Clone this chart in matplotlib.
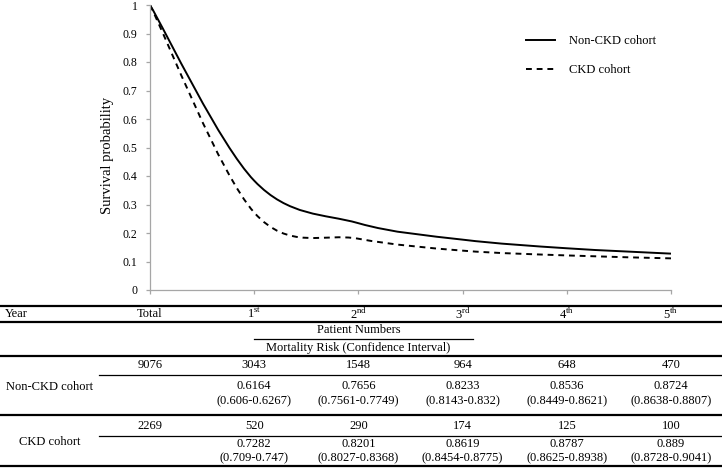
import matplotlib
matplotlib.use('Agg')
import numpy as np
import matplotlib.pyplot as plt
from matplotlib.path import Path
from matplotlib.patches import PathPatch
from matplotlib.lines import Line2D
from matplotlib.transforms import blended_transform_factory

plt.rcParams['font.family'] = ['Liberation Serif', 'DejaVu Serif']
plt.rcParams['mathtext.fontset'] = 'custom'
plt.rcParams['mathtext.rm'] = 'Liberation Serif'

# data
years = [0, 1, 2, 3, 4, 5]
surv_non_ckd = [1.0, 0.3836, 0.2344, 0.1767, 0.1464, 0.1276]
surv_ckd = [1.0, 0.2718, 0.1799, 0.1381, 0.1213, 0.1110]
year_labels = ['Total', r'1$^{\rm st}$', r'2$^{\rm nd}$', r'3$^{\rm rd}$', r'4$^{\rm th}$', r'5$^{\rm th}$']
n_non_ckd = ['9076', '3043', '1548', '964', '648', '470']
n_ckd = ['2269', '520', '290', '174', '125', '100']
risk_non_ckd = ['0.6164', '0.7656', '0.8233', '0.8536', '0.8724']
ci_non_ckd = ['(0.606-0.6267)', '(0.7561-0.7749)', '(0.8143-0.832)', '(0.8449-0.8621)', '(0.8638-0.8807)']
risk_ckd = ['0.7282', '0.8201', '0.8619', '0.8787', '0.889']
ci_ckd = ['(0.709-0.747)', '(0.8027-0.8368)', '(0.8454-0.8775)', '(0.8625-0.8938)', '(0.8728-0.9041)']


def smooth_path(x, y):
    # Excel-style smoothed line: cubic bezier through the points
    p = np.column_stack([x, y]).astype(float)
    n = len(p)
    verts = [p[0]]
    codes = [Path.MOVETO]
    for i in range(n - 1):
        prev = p[max(i - 1, 0)]
        nxt = p[min(i + 2, n - 1)]
        c1 = p[i] + (p[i + 1] - prev) / 6.0
        c2 = p[i + 1] - (nxt - p[i]) / 6.0
        verts += [c1, c2, p[i + 1]]
        codes += [Path.CURVE4] * 3
    return Path(verts, codes)


W, H = 722, 468
fig = plt.figure(figsize=(W / 100, H / 100), dpi=100)
ax = fig.add_axes([150 / W, 1 - 290 / H, 521 / W, 285 / H])

ax.add_patch(PathPatch(smooth_path(years, surv_non_ckd), fill=False,
                       edgecolor='black', lw=1.4))
ax.add_patch(PathPatch(smooth_path(years, surv_ckd), fill=False,
                       edgecolor='black', lw=1.4, linestyle=(0, (3.0, 2.5))))
ax.set_xlim(0, 5)
ax.set_ylim(0, 1)

# legend handles
h1 = Line2D([], [], color='black', lw=1.4)
h2 = Line2D([], [], color='black', lw=1.4, linestyle=(0, (3.0, 2.5)))
fig.legend([h1, h2], ['Non-CKD cohort', 'CKD cohort'], loc='upper left',
           bbox_to_anchor=(526 / W, 1 - 35 / H), frameon=False, fontsize=9,
           handlelength=2.3, handletextpad=1.15, labelspacing=1.38,
           borderpad=0, borderaxespad=0)

grey = '#a6a6a6'
for s in ['top', 'right']:
    ax.spines[s].set_visible(False)
for s in ['left', 'bottom']:
    ax.spines[s].set_color(grey)
    ax.spines[s].set_linewidth(0.9)
ax.set_xticks(years)
ax.set_xticklabels([])
ax.set_yticks(np.arange(0, 1.01, 0.1))
ax.set_yticklabels(['{:g}'.format(round(v, 1)) for v in np.arange(0, 1.01, 0.1)])
ax.tick_params(axis='both', colors=grey, length=3, width=0.9, labelcolor='black',
               labelsize=8.5)
ax.tick_params(axis='y', pad=6)
fig.text(107 / W, 1 - 155 / H, 'Survival probability', rotation=90,
         ha='center', va='center', fontsize=10.5)

# table below the chart
def fy(px):
    return 1 - px / H

tr = blended_transform_factory(ax.transData, fig.transFigure)
ff = fig.transFigure


def hline(y, x0=0, x1=W, lw=1.6, data_x=False):
    if data_x:
        fig.add_artist(Line2D([x0, x1], [fy(y), fy(y)], transform=tr, color='black', lw=lw))
    else:
        fig.add_artist(Line2D([x0 / W, x1 / W], [fy(y), fy(y)], transform=ff, color='black', lw=lw))


hline(306)
hline(322)
hline(356)
hline(415)
hline(466)
hline(339, 1, 3.1, lw=0.9, data_x=True)
hline(375, 99, W, lw=0.9)
hline(436, 99, W, lw=0.9)

fs = 9
fig.text(5 / W, fy(314), 'Year', ha='left', va='center', fontsize=fs)
for x, lab in zip(years, year_labels):
    fig.text(x, fy(314), lab, transform=tr, ha='center', va='center', fontsize=fs)
fig.text(2, fy(330), 'Patient Numbers', transform=tr, ha='center', va='center', fontsize=fs)
fig.text(2, fy(348), 'Mortality Risk (Confidence Interval)', transform=tr,
         ha='center', va='center', fontsize=fs)

fig.text(50 / W, fy(387), 'Non-CKD cohort', ha='center', va='center', fontsize=fs)
fig.text(50 / W, fy(442), 'CKD cohort', ha='center', va='center', fontsize=fs)

for x, n in zip(years, n_non_ckd):
    fig.text(x, fy(365), n, transform=tr, ha='center', va='center', fontsize=fs)
for x, n in zip(years, n_ckd):
    fig.text(x, fy(426), n, transform=tr, ha='center', va='center', fontsize=fs)
for x, r, c in zip(years[1:], risk_non_ckd, ci_non_ckd):
    fig.text(x, fy(386), r, transform=tr, ha='center', va='center', fontsize=fs)
    fig.text(x, fy(401), c, transform=tr, ha='center', va='center', fontsize=fs)
for x, r, c in zip(years[1:], risk_ckd, ci_ckd):
    fig.text(x, fy(444), r, transform=tr, ha='center', va='center', fontsize=fs)
    fig.text(x, fy(458), c, transform=tr, ha='center', va='center', fontsize=fs)

fig.savefig('out.png', dpi=100)
